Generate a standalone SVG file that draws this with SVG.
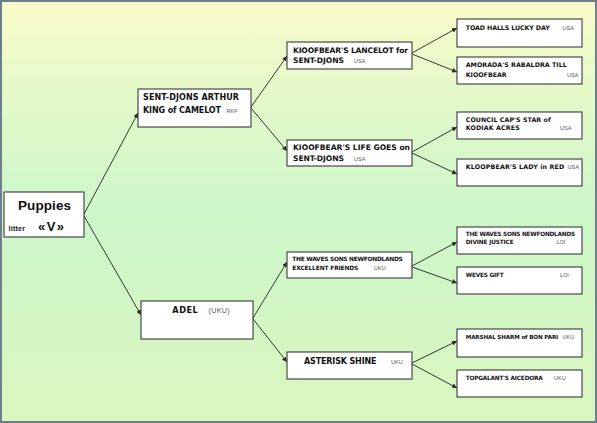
<svg xmlns="http://www.w3.org/2000/svg" width="597" height="423" viewBox="0 0 597 423">
<defs>
<linearGradient id="bg" x1="0" y1="0" x2="0" y2="1">
<stop offset="0" stop-color="#f9fbc9"/>
<stop offset="0.5" stop-color="#ccf6c9"/>
<stop offset="1" stop-color="#daf6bf"/>
</linearGradient>
<marker id="ah" viewBox="0 0 6 6" markerWidth="5" markerHeight="5" refX="6" refY="3" orient="auto" markerUnits="userSpaceOnUse">
<path d="M0,0 L6,3 L0,6 z" fill="#2a2a2a"/>
</marker>
<style>
.box{fill:#ffffff;stroke:#3a3a3a;stroke-width:1.1}
.b{font-family:"DejaVu Sans","Liberation Sans",sans-serif;font-weight:bold;fill:#111}
.p{font-family:"Liberation Sans",Arial,sans-serif;font-weight:bold;fill:#111}
.c{font-family:"Liberation Sans",Arial,sans-serif;fill:#555}
.con line{stroke:#2f3a2f;stroke-width:1;marker-end:url(#ah)}
</style>
</defs>
<rect x="0" y="0" width="597" height="423" fill="url(#bg)"/>
<rect x="1" y="1" width="595" height="421" fill="none" stroke="#6e7f8c" stroke-width="2"/>

<g id="connectors" class="con">
<line x1="84" y1="214" x2="138" y2="113"/>
<line x1="84" y1="216" x2="141" y2="315"/>
<line x1="251" y1="107" x2="287" y2="56"/>
<line x1="251" y1="108" x2="287" y2="151"/>
<line x1="253" y1="318" x2="287" y2="262"/>
<line x1="253" y1="319" x2="287" y2="362"/>
<line x1="412" y1="53" x2="457" y2="28"/>
<line x1="412" y1="54" x2="457" y2="72"/>
<line x1="412" y1="152" x2="457" y2="127"/>
<line x1="412" y1="153" x2="457" y2="174"/>
<line x1="412" y1="266" x2="457" y2="242"/>
<line x1="412" y1="267" x2="457" y2="283"/>
<line x1="412" y1="363" x2="457" y2="341"/>
<line x1="412" y1="364" x2="457" y2="388"/>
</g>

<g id="puppies">
<rect class="box" x="4" y="192" width="80" height="45"/>
<text class="p" x="18" y="209.5" font-size="13.5" textLength="53">Puppies</text>
<text class="p" x="8.5" y="231" font-size="7" textLength="16.5">litter</text>
<text class="p" x="38" y="231" font-size="13" font-weight="normal" textLength="26">«V»</text>
</g>

<g id="sent-djons">
<rect class="box" x="138" y="89" width="113" height="38"/>
<text class="b" x="143" y="99.5" font-size="8" textLength="96">SENT-DJONS ARTHUR</text>
<text class="b" x="143" y="112.5" font-size="8" textLength="78">KING of CAMELOT</text>
<text class="c" x="226.5" y="112.5" font-size="5.5">RKF</text>
</g>

<g id="adel">
<rect class="box" x="141" y="301" width="112" height="38"/>
<text class="b" x="172.3" y="312.5" font-size="8.2" textLength="25.5">ADEL</text>
<text class="c" x="208.5" y="312.5" font-size="7" textLength="21">(UKU)</text>
</g>

<g id="lancelot">
<rect class="box" x="287" y="42" width="125" height="27"/>
<text class="b" x="293" y="52.5" font-size="7.6" textLength="115">KIOOFBEAR'S LANCELOT for</text>
<text class="b" x="293" y="63" font-size="7.6" textLength="51">SENT-DJONS</text>
<text class="c" x="354" y="63" font-size="5.5">USA</text>
</g>

<g id="lifegoes">
<rect class="box" x="287" y="140" width="125" height="26"/>
<text class="b" x="293" y="150.3" font-size="7.6" textLength="117">KIOOFBEAR'S LIFE GOES on</text>
<text class="b" x="293" y="161" font-size="7.6" textLength="51">SENT-DJONS</text>
<text class="c" x="354" y="161" font-size="5.5">USA</text>
</g>

<g id="excellent">
<rect class="box" x="287" y="252" width="125" height="26"/>
<text class="b" x="292.3" y="260.7" font-size="5.9" textLength="110.5">THE WAVES SONS NEWFONDLANDS</text>
<text class="b" x="292.3" y="270.2" font-size="5.9" textLength="66">EXCELLENT FRIENDS</text>
<text class="c" x="374" y="270.2" font-size="5.5">UKU</text>
</g>

<g id="asterisk">
<rect class="box" x="287" y="352" width="125" height="27"/>
<text class="b" x="304" y="363.5" font-size="8" textLength="72.5">ASTERISK SHINE</text>
<text class="c" x="391" y="363.5" font-size="5.5">UKU</text>
</g>

<g id="toad">
<rect class="box" x="457" y="19" width="125" height="28"/>
<text class="b" x="465.7" y="29.7" font-size="6.3" textLength="84">TOAD HALLS LUCKY DAY</text>
<text class="c" x="562.5" y="29.7" font-size="5.5">USA</text>
</g>

<g id="amorada">
<rect class="box" x="457" y="57" width="125" height="27"/>
<text class="b" x="465.7" y="66.7" font-size="6.3" textLength="101">AMORADA'S  RABALDRA TILL</text>
<text class="b" x="465.7" y="77.3" font-size="6.3" textLength="41">KIOOFBEAR</text>
<text class="c" x="567" y="77.3" font-size="5.5">USA</text>
</g>

<g id="council">
<rect class="box" x="457" y="112" width="125" height="27"/>
<text class="b" x="465.7" y="121.7" font-size="6.3" textLength="85">COUNCIL  CAP'S STAR of</text>
<text class="b" x="465.7" y="130.3" font-size="6.3" textLength="54">KODIAK  ACRES</text>
<text class="c" x="560" y="130.3" font-size="5.5">USA</text>
</g>

<g id="lady">
<rect class="box" x="457" y="159" width="125" height="27"/>
<text class="b" x="465.7" y="169" font-size="6.3" textLength="98.5">KLOOPBEAR'S LADY in RED</text>
<text class="c" x="567.5" y="169" font-size="5.5">USA</text>
</g>

<g id="divine">
<rect class="box" x="457" y="227" width="125" height="27"/>
<text class="b" x="465.7" y="235.7" font-size="5.8" textLength="109.5">THE WAVES SONS NEWFONDLANDS</text>
<text class="b" x="465.7" y="244.4" font-size="5.8" textLength="48">DIVINE JUSTICE</text>
<text class="c" x="556.5" y="244.4" font-size="5.5">LOI</text>
</g>

<g id="weves">
<rect class="box" x="457" y="267" width="125" height="27"/>
<text class="b" x="465.7" y="277.4" font-size="5.8" textLength="38">WEVES GIFT</text>
<text class="c" x="560" y="277.4" font-size="5.5">LOI</text>
</g>

<g id="marshal">
<rect class="box" x="457" y="329" width="125" height="28"/>
<text class="b" x="465.7" y="339.2" font-size="5.6" textLength="92.5">MARSHAL SHARM of BON PARI</text>
<text class="c" x="562.5" y="339.2" font-size="5.5">UKU</text>
</g>

<g id="topgalant">
<rect class="box" x="457" y="370" width="125" height="27"/>
<text class="b" x="465.7" y="380.2" font-size="5.8" textLength="77">TOPGALANT'S  AICEDORA</text>
<text class="c" x="554" y="380.2" font-size="5.5">UKU</text>
</g>
</svg>
